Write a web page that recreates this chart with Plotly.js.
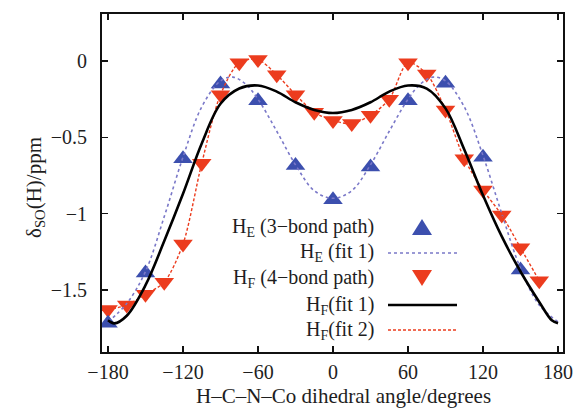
<!DOCTYPE html>
<html><head><meta charset="utf-8">
<script src="https://cdn.plot.ly/plotly-3.0.1.min.js"></script>
<style>html,body{margin:0;padding:0;background:#fff}#c{width:576px;height:410px}</style>
</head><body><div id="c"></div>
<script>
// Data
const blueAngles = [-180,-150,-120,-90,-60,-30,0,30,60,90,120,150];
const blueVals   = [-1.72,-1.39,-0.64,-0.15,-0.26,-0.685,-0.91,-0.695,-0.26,-0.145,-0.63,-1.37];

const redAngles = [-180,-165,-150,-135,-120,-105,-90,-75,-60,-45,-30,-15,0,15,30,45,60,75,90,105,120,135,150,165];
const redVals   = [-1.63,-1.60,-1.53,-1.45,-1.20,-0.67,-0.22,-0.01,0.01,-0.09,-0.22,-0.335,-0.39,-0.41,-0.355,-0.25,-0.01,-0.085,-0.32,-0.64,-0.845,-1.01,-1.225,-1.44];

const blueFitX = [-180,-165,-150,-135,-120,-105,-90,-80,-70,-60,-45,-30,-15,0,15,30,45,60,70,80,90,105,120,135,150,165,180];
const blueFitY = [-1.71,-1.59,-1.38,-1.02,-0.63,-0.30,-0.13,-0.105,-0.15,-0.25,-0.46,-0.68,-0.85,-0.90,-0.85,-0.68,-0.46,-0.25,-0.15,-0.105,-0.13,-0.30,-0.62,-1.00,-1.36,-1.60,-1.71];

const fit1X = [-180,-175,-165,-150,-135,-120,-105,-90,-75,-60,-45,-30,-15,0,15,30,45,60,75,90,105,120,135,150,165,175,180];
const fit1Y = [-1.70,-1.72,-1.67,-1.47,-1.18,-0.87,-0.54,-0.28,-0.18,-0.16,-0.20,-0.27,-0.32,-0.34,-0.32,-0.27,-0.20,-0.16,-0.18,-0.31,-0.58,-0.88,-1.15,-1.38,-1.58,-1.70,-1.72];

const fit2X = redAngles;
const fit2Y = redVals;

const xTicks = [-180,-120,-60,0,60,120,180];
const yTicks = [0,-0.5,-1,-1.5];

const legendLabels = ["H<sub>E</sub> (3\u2212bond path)","H<sub>E</sub> (fit 1)","H<sub>F</sub> (4\u2212bond path)","H<sub>F</sub>(fit 1)","H<sub>F</sub>(fit 2)"];

const BLUE = "#3c4fae", RED = "#ec3c1e", BLUEDOT = "#7a78c8";
const FONT = "Liberation Serif, Times New Roman, serif";
const TXT = "#1e1e1e";

// layout geometry (pixels)
const L = 102, T = 14, W = 461, H = 338;
const px = x => (x - L) / W;
const py = y => (T + H - y) / H;

const traces = [
  {x: redAngles, y: redVals, mode: "markers", type: "scatter",
   marker: {symbol: "triangle-down", size: 17, color: RED}},
  {x: blueAngles, y: blueVals, mode: "markers", type: "scatter",
   marker: {symbol: "triangle-up", size: 17, color: BLUE}},
  {x: blueFitX, y: blueFitY, mode: "lines", type: "scatter",
   line: {shape: "spline", smoothing: 1, color: BLUEDOT, width: 1.6, dash: "dot"}},
  {x: fit2X, y: fit2Y, mode: "lines", type: "scatter",
   line: {shape: "spline", smoothing: 0.8, color: RED, width: 1.4, dash: "3px,2px"}},
  {x: fit1X, y: fit1Y, mode: "lines", type: "scatter",
   line: {shape: "spline", smoothing: 1, color: "#000", width: 2.6}}
];

// manual legend (text on the left, sample on the right)
const rows = [227, 253, 278, 305, 330];
const annotations = legendLabels.map((t, i) => ({
  text: t, xref: "paper", yref: "paper", x: px(376), y: py(rows[i]),
  xanchor: "right", yanchor: "middle", showarrow: false,
  font: {family: FONT, size: 20, color: TXT}
}));
annotations.push({
  text: "H\u2013C\u2013N\u2013Co dihedral angle/degrees", xref: "paper", yref: "paper",
  x: px(343), y: py(396), xanchor: "center", yanchor: "middle", showarrow: false,
  font: {family: FONT, size: 21, color: TXT}
});
annotations.push({
  text: "\u03b4<sub>SO</sub>(H)/ppm", xref: "paper", yref: "paper", textangle: -90,
  x: px(35), y: py(188), xanchor: "center", yanchor: "middle", showarrow: false,
  font: {family: FONT, size: 21, color: TXT}
});

function tri(cx, cy, up) {
  const hw = 10, hh = 8;
  if (up) return `M${px(cx-hw)},${py(cy+hh)} L${px(cx+hw)},${py(cy+hh)} L${px(cx)},${py(cy-hh)} Z`;
  return `M${px(cx-hw)},${py(cy-hh)} L${px(cx+hw)},${py(cy-hh)} L${px(cx)},${py(cy+hh)} Z`;
}
const shapes = [
  {type: "path", xref: "paper", yref: "paper", path: tri(422, rows[0], true), fillcolor: BLUE, line: {width: 0}},
  {type: "line", xref: "paper", yref: "paper", x0: px(388), x1: px(457), y0: py(rows[1]), y1: py(rows[1]), line: {color: BLUEDOT, width: 1.6, dash: "dot"}},
  {type: "path", xref: "paper", yref: "paper", path: tri(422, rows[2], false), fillcolor: RED, line: {width: 0}},
  {type: "line", xref: "paper", yref: "paper", x0: px(388), x1: px(457), y0: py(rows[3]), y1: py(rows[3]), line: {color: "#000", width: 2.6}},
  {type: "line", xref: "paper", yref: "paper", x0: px(388), x1: px(457), y0: py(rows[4]), y1: py(rows[4]), line: {color: RED, width: 1.4, dash: "3px,2px"}}
];

const axisCommon = {
  showline: true, linecolor: "#111", linewidth: 2, mirror: "ticks",
  ticks: "inside", ticklen: 6, tickwidth: 1.5, tickcolor: "#111",
  showgrid: false, zeroline: false,
  tickfont: {family: FONT, size: 20, color: TXT}
};

const layout = {
  width: 576, height: 410,
  margin: {l: L, r: 576 - L - W, t: T, b: 410 - T - H},
  paper_bgcolor: "#fff", plot_bgcolor: "#fff",
  font: {family: FONT},
  showlegend: false,
  xaxis: Object.assign({}, axisCommon, {range: [-184.8, 184], tickvals: xTicks, ticklabelstandoff: 1}),
  yaxis: Object.assign({}, axisCommon, {range: [-1.908, 0.309], tickvals: yTicks, ticklabelstandoff: 9}),
  annotations: annotations, shapes: shapes
};

Plotly.newPlot("c", traces, layout, {staticPlot: true});
</script></body></html>
